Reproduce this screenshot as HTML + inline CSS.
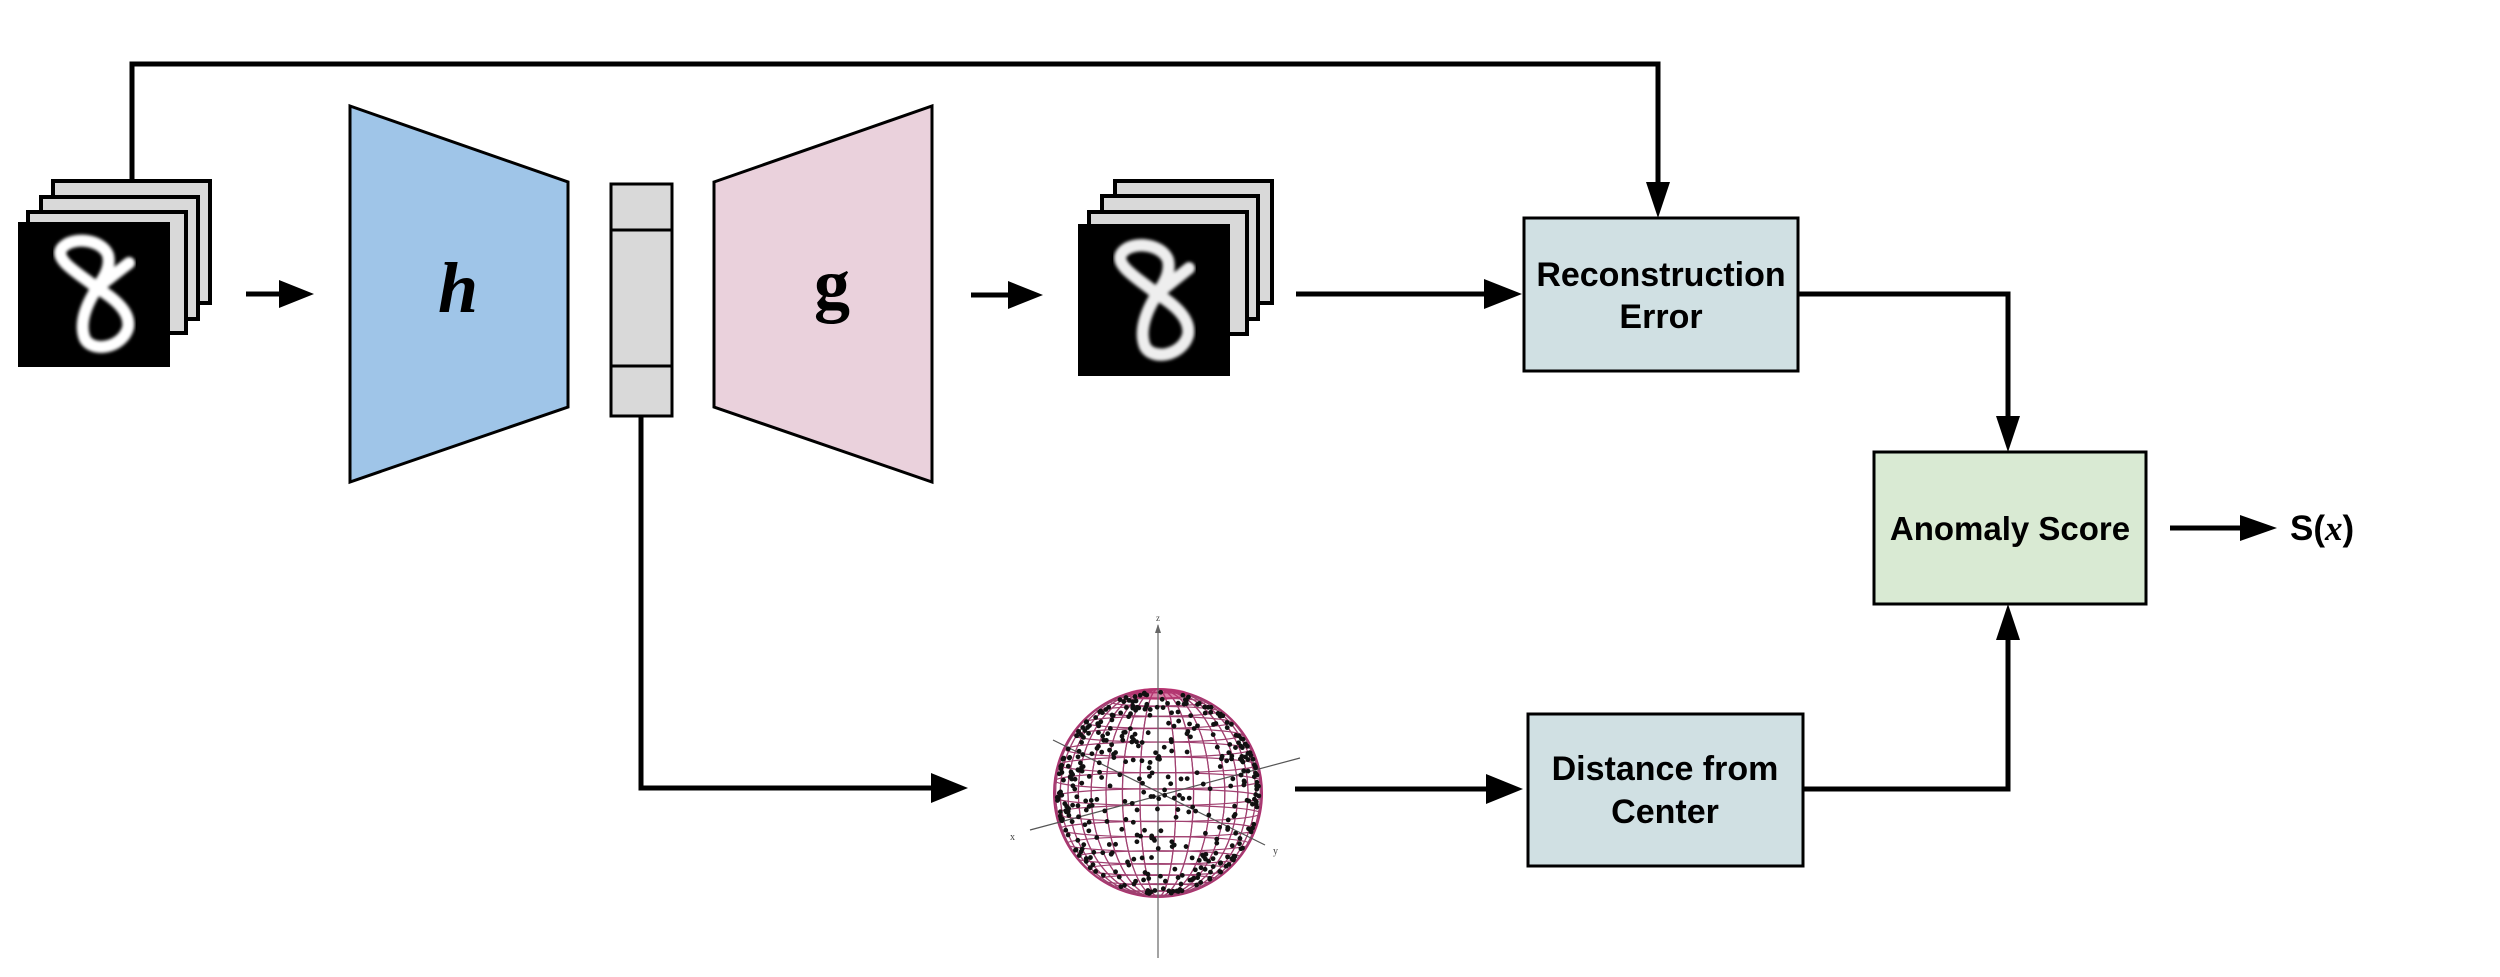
<!DOCTYPE html>
<html><head><meta charset="utf-8"><style>html,body{margin:0;padding:0;background:#fff}svg{display:block}</style></head>
<body>
<svg id="s" width="2500" height="977" viewBox="0 0 2500 977" xmlns="http://www.w3.org/2000/svg" font-family="Liberation Sans, Arial, sans-serif">
<defs>
<filter id="bl"><feGaussianBlur stdDeviation="1.6"/></filter>
<clipPath id="sc"><circle cx="1158" cy="793" r="104"/></clipPath>
</defs>
<polyline points="132,181 132,64 1658,64 1658,184" fill="none" stroke="#000" stroke-width="5"/>
<polygon points="1646,182 1670,182 1658,218" fill="#000"/>
<rect x="53" y="181" width="157" height="122" fill="#d9d9d9" stroke="#000" stroke-width="4"/>
<rect x="41" y="197" width="157" height="122" fill="#d9d9d9" stroke="#000" stroke-width="4"/>
<rect x="28" y="212" width="158" height="121" fill="#d9d9d9" stroke="#000" stroke-width="4"/>
<rect x="18" y="222" width="152" height="145" fill="#000"/>
<g transform="translate(18,222)"><path d="M79,66 C62,52 35,38 44,26 C54,14 84,17 90,33 C93,45 86,56 79,66 C70,80 60,100 67,117 C75,131 104,126 110,106 C113,90 96,76 79,66 M79,66 L111,41" fill="none" stroke="#fff" stroke-width="12" stroke-linecap="round" filter="url(#bl)"/></g>
<line x1="246" y1="294" x2="285" y2="294" stroke="#000" stroke-width="5"/>
<polygon points="279,280 314,294 279,308" fill="#000"/>
<polygon points="350,106 568,182 568,407 350,482" fill="#9fc5e8" stroke="#000" stroke-width="3"/>
<text x="458" y="312" font-family="Liberation Serif, serif" font-style="italic" font-weight="bold" font-size="72" text-anchor="middle">h</text>
<rect x="611" y="184" width="61" height="232" fill="#d9d9d9" stroke="#000" stroke-width="3"/>
<line x1="611" y1="230" x2="672" y2="230" stroke="#000" stroke-width="3"/>
<line x1="611" y1="366" x2="672" y2="366" stroke="#000" stroke-width="3"/>
<polygon points="714,182 932,106 932,482 714,407" fill="#ead1dc" stroke="#000" stroke-width="3"/>
<text x="832" y="308" font-family="Liberation Serif, serif" font-weight="bold" font-size="72" text-anchor="middle">g</text>
<line x1="971" y1="295" x2="1012" y2="295" stroke="#000" stroke-width="5"/>
<polygon points="1008,281 1043,295 1008,309" fill="#000"/>
<rect x="1115" y="181" width="157" height="122" fill="#d9d9d9" stroke="#000" stroke-width="4"/>
<rect x="1102" y="196" width="156" height="123" fill="#d9d9d9" stroke="#000" stroke-width="4"/>
<rect x="1089" y="212" width="158" height="122" fill="#d9d9d9" stroke="#000" stroke-width="4"/>
<rect x="1078" y="224" width="152" height="152" fill="#000"/>
<g transform="translate(1078,226) scale(1,1.03)"><path d="M79,66 C62,52 35,38 44,26 C54,14 84,17 90,33 C93,45 86,56 79,66 C70,80 60,100 67,117 C75,131 104,126 110,106 C113,90 96,76 79,66 M79,66 L111,41" fill="none" stroke="#eee" stroke-width="12" stroke-linecap="round" filter="url(#bl)"/></g>
<line x1="1296" y1="294" x2="1490" y2="294" stroke="#000" stroke-width="5"/>
<polygon points="1484,279 1522,294 1484,309" fill="#000"/>
<rect x="1524" y="218" width="274" height="153" fill="#d0e0e3" stroke="#000" stroke-width="3"/>
<text x="1661" y="286" font-size="34" font-weight="bold" text-anchor="middle">Reconstruction</text>
<text x="1661" y="328" font-size="34" font-weight="bold" text-anchor="middle">Error</text>
<polyline points="1798,294 2008,294 2008,420" fill="none" stroke="#000" stroke-width="5"/>
<polygon points="1996,416 2020,416 2008,452" fill="#000"/>
<rect x="1874" y="452" width="272" height="152" fill="#d9ead3" stroke="#000" stroke-width="3"/>
<text x="2010" y="540" font-size="33" font-weight="bold" text-anchor="middle">Anomaly Score</text>
<line x1="2170" y1="528" x2="2245" y2="528" stroke="#000" stroke-width="5"/>
<polygon points="2240,515 2277,528 2240,541" fill="#000"/>
<text x="2290" y="540" font-size="35" font-weight="bold">S(<tspan font-family="Liberation Serif, serif" font-style="italic">x</tspan>)</text>
<polyline points="641,416 641,788 935,788" fill="none" stroke="#000" stroke-width="5"/>
<polygon points="931,773 968,788 931,803" fill="#000"/>
<g id="sph">
<circle cx="1158" cy="793" r="104" fill="#fff" stroke="#b03070" stroke-width="2"/>
<g id="grid" clip-path="url(#sc)" stroke="#a04070" stroke-width="1.2" fill="none"></g>
<ellipse cx="1158" cy="694" rx="30" ry="6" fill="#c03070" opacity="0.6"/>
<line x1="1158" y1="625" x2="1158" y2="958" stroke="#666" stroke-width="1.2"/>
<polygon points="1155,633 1158,624 1161,633" fill="#666"/>
<text x="1158" y="621" font-size="9" font-family="Liberation Serif,serif" text-anchor="middle" fill="#444">z</text>
<line x1="1053" y1="740" x2="1265" y2="845" stroke="#555" stroke-width="1.2"/>
<text x="1273" y="854" font-size="10" font-family="Liberation Serif,serif" fill="#444">y</text>
<line x1="1030" y1="830" x2="1300" y2="758" stroke="#555" stroke-width="1.2"/>
<text x="1010" y="840" font-size="10" font-family="Liberation Serif,serif" fill="#444">x</text>
<g id="dots" fill="#111"></g>
</g>
<line x1="1295" y1="789" x2="1490" y2="789" stroke="#000" stroke-width="5"/>
<polygon points="1486,774 1523,789 1486,804" fill="#000"/>
<rect x="1528" y="714" width="275" height="152" fill="#d0e0e3" stroke="#000" stroke-width="3"/>
<text x="1665" y="780" font-size="34" font-weight="bold" text-anchor="middle">Distance from</text>
<text x="1665" y="823" font-size="34" font-weight="bold" text-anchor="middle">Center</text>
<polyline points="1803,789 2008,789 2008,640" fill="none" stroke="#000" stroke-width="5"/>
<polygon points="1996,640 2020,640 2008,604" fill="#000"/>
</svg>
<script>
(function(){
var ns="http://www.w3.org/2000/svg",cx=1158,cy=793,r=104;
var g=document.getElementById("grid"),d=document.getElementById("dots");
for(var i=1;i<20;i++){var a=-Math.PI/2+i*Math.PI/20;var y=cy+r*Math.sin(a);var w=r*Math.cos(a);
var e=document.createElementNS(ns,"ellipse");e.setAttribute("cx",cx);e.setAttribute("cy",y+w*0.04);e.setAttribute("rx",w);e.setAttribute("ry",w*0.08);g.appendChild(e);}
for(var j=0;j<18;j++){var b=j*Math.PI/18;var rx=Math.abs(r*Math.cos(b));
var e2=document.createElementNS(ns,"ellipse");e2.setAttribute("cx",cx);e2.setAttribute("cy",cy);e2.setAttribute("rx",rx);e2.setAttribute("ry",r);g.appendChild(e2);}
var s=12345;function rnd(){s=(s*1103515245+12345)%2147483648;return s/2147483648;}
for(var k=0;k<800;k++){var u=rnd()*2-1,t=rnd()*Math.PI*2;var q=Math.sqrt(1-u*u);var x=q*Math.cos(t),z=u,yy=q*Math.sin(t);if(yy<0)continue;
var c=document.createElementNS(ns,"circle");c.setAttribute("cx",cx+x*r*0.97);c.setAttribute("cy",cy-z*r*0.97);c.setAttribute("r",2.4);d.appendChild(c);}
})();
</script>
</body></html>
